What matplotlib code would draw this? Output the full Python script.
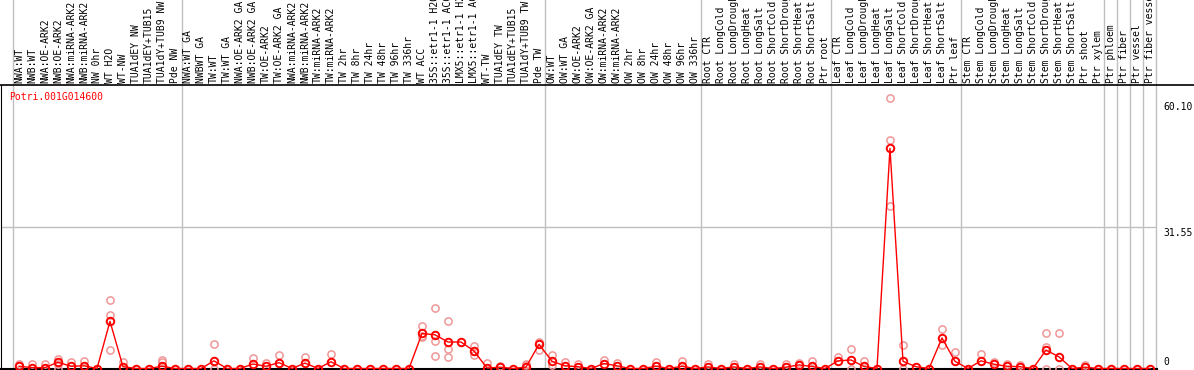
"""Expression profile of Potri.001G014600 across poplar samples."""

import matplotlib.pyplot as plt
from matplotlib.lines import Line2D

samples = [
    "NWA:WT", "NWB:WT", "NWA:OE-ARK2", "NWB:OE-ARK2", "NWA:miRNA-ARK2",
    "NWB:miRNA-ARK2", "NW 0hr", "WT H2O", "WT-NW", "TUA1dEY NW",
    "TUA1dEY+TUB15", "TUA1dY+TUB9 NW", "Pde NW",
    "NWA:WT GA", "NWBWT GA", "TW:WT", "TW:WT GA", "NWA:OE-ARK2 GA",
    "NWB:OE-ARK2 GA", "TW:OE-ARK2", "TW:OE-ARK2 GA", "NWA:miRNA-ARK2",
    "NWB:miRNA-ARK2", "TW:miRNA-ARK2", "TW:miRNA-ARK2", "TW 2hr", "TW 8hr",
    "TW 24hr", "TW 48hr", "TW 96hr", "TW 336hr", "WT ACC",
    "35S::etr1-1 H2O", "35S::etr1-1 ACC", "LMX5::etr1-1 H2O",
    "LMX5::etr1-1 ACC", "WT-TW", "TUA1dEY TW", "TUA1dEY+TUB15",
    "TUA1dY+TUB9 TW", "Pde TW",
    "OW:WT", "OW:WT GA", "OW:OE-ARK2", "OW:OE-ARK2 GA", "OW:miRNA-ARK2",
    "OW:miRNA-ARK2", "OW 2hr", "OW 8hr", "OW 24hr", "OW 48hr", "OW 96hr",
    "OW 336hr",
    "Root CTR", "Root LongCold", "Root LongDrought", "Root LongHeat",
    "Root LongSalt", "Root ShortCold", "Root ShortDrought", "Root ShortHeat",
    "Root ShortSalt", "Ptr root",
    "Leaf CTR", "Leaf LongCold", "Leaf LongDrought", "Leaf LongHeat",
    "Leaf LongSalt", "Leaf ShortCold", "Leaf ShortDrought", "Leaf ShortHeat",
    "Leaf ShortSalt", "Ptr leaf",
    "Stem CTR", "Stem LongCold", "Stem LongDrought", "Stem LongHeat",
    "Stem LongSalt", "Stem ShortCold", "Stem ShortDrought", "Stem ShortHeat",
    "Stem ShortSalt", "Ptr shoot", "Ptr xylem",
    "Ptr phloem", "Ptr fiber", "Ptr vessel", "Ptr fiber vessel",
]

mean_expr = [
    0.5, 0.2, 0.2, 1.4, 0.5, 0.6, 0.0, 10.5, 0.4, 0.0, 0.0, 0.5, 0.0,
    0.0, 0.0, 1.7, 0.0, 0.0, 1.0, 0.5, 1.3, 0.0, 1.2, 0.0, 1.5, 0.0, 0.0,
    0.0, 0.0, 0.0, 0.0, 7.8, 7.5, 5.9, 5.9, 3.9, 0.1, 0.3, 0.0, 0.3, 5.4,
    1.6, 0.6, 0.4, 0.0, 1.1, 0.6, 0.0, 0.0, 0.5, 0.0, 0.5, 0.0,
    0.35, 0.0, 0.35, 0.0, 0.35, 0.0, 0.3, 0.8, 0.45, 0.0,
    1.7, 1.9, 0.45, 0.0, 49.0, 1.6, 0.4, 0.0, 6.8, 1.6,
    0.0, 1.7, 0.95, 0.5, 0.4, 0.0, 4.1, 2.6, 0.0, 0.3, 0.0,
    0.0, 0.0, 0.0, 0.0,
]

# individual replicates (sample index, value)
rep_index = [
    0, 1, 2, 3, 3, 3, 4, 5, 7, 7, 7, 8, 11, 11, 15, 15, 18, 19, 20, 22, 24,
    31, 31, 31, 32, 32, 32, 33, 33, 33, 35, 35, 36, 37, 39, 39, 40, 40,
    41, 41, 42, 43, 45, 46, 49, 51, 53, 55, 57, 59, 60, 61, 63, 64, 64, 65,
    67, 67, 67, 68, 68, 71, 71, 72, 74, 75, 76, 77, 79, 79, 79, 80, 80, 82,
]
rep_value = [
    1.0, 1.0, 1.0, 2.1, 1.0, 0.0, 1.5, 1.75, 15.3, 12.0, 4.2, 1.5, 1.9, 1.5,
    5.5, 0.0, 2.4, 1.2, 2.9, 2.6, 3.3,
    9.4, 7.3, 7.0, 13.4, 6.1, 2.8, 10.5, 4.4, 2.5, 4.9, 3.1, 1.2, 0.6,
    1.1, 0.8, 5.8, 4.2, 2.9, 0.8, 1.5, 1.0, 1.85, 1.3, 1.4, 1.7, 1.1, 1.1,
    1.1, 1.1, 1.3, 1.6, 2.5, 4.3, 0.0, 1.7,
    60.1, 50.8, 36.1, 5.2, 0.0, 8.8, 5.2, 3.7, 3.3, 1.5, 1.0, 0.8,
    8.0, 4.8, 0.0, 8.0, 0.0, 0.7,
]

group_breaks = [-0.5, 12.5, 40.5, 52.5, 62.5, 72.5, 83.5, 84.5, 85.5, 86.5, 87.5]
gene_id = "Potri.001G014600"
y_max = 63.1
y_ticks = [0.0, 31.55, 60.10]
y_tick_labels = ["0", "31.55", "60.10"]

W, H = 1194, 370
MONO = "DejaVu Sans Mono"
GREY = "#c0c0c0"

fig = plt.figure(figsize=(W / 100, H / 100), dpi=100)
ax_h = (368.5 - 85) / H
ax = fig.add_axes([1 / W, 1.5 / H, 1156 / W, ax_h])
ax.set_xlim(-1.385, 87.54)
ax.set_ylim(0, y_max)
ax.set_xticks([])
ax.set_yticks([])
for side in ("top", "right"):
    ax.spines[side].set_visible(False)
ax.spines["left"].set_color("black")
ax.spines["bottom"].set_color("black")
ax.spines["bottom"].set_linewidth(1.5)

# separator lines reach up through the label band
top_frac = 1 + 85 / (ax_h * H)
for b in group_breaks:
    ax.plot([b, b], [0, top_frac], transform=ax.get_xaxis_transform(),
            color=GREY, lw=1, clip_on=False, zorder=1)
ax.axhline(y_max / 2, color=GREY, lw=1, zorder=1)

# full-width rule between labels and plot
fig.add_artist(Line2D([0, 1], [(H - 85) / H] * 2, transform=fig.transFigure,
                      color="black", lw=1.2))

xs = list(range(len(samples)))
ax.plot(rep_index, rep_value, ls="none", marker="o", ms=5.2, mfc="none",
        mec="#ef9797", mew=1.1, zorder=3)
ax.plot(xs, mean_expr, color="#ff0000", lw=1, marker="o", ms=5.4,
        mfc="none", mec="#ff0000", mew=1.4, zorder=4)

label_y = 1 + 2 / (ax_h * H)
for x, name in zip(xs, samples):
    ax.text(x, label_y, name, transform=ax.get_xaxis_transform(), rotation=90,
            ha="center", va="bottom", fontsize=7, family=MONO, clip_on=False)

ax.text(8 / 1156, 1 - 12 / (ax_h * H), gene_id, transform=ax.transAxes,
        ha="left", va="center", fontsize=7, family=MONO, color="#ff0000")

offsets = [6.5, -5.8, -8.7]
for val, txt, off in zip(y_ticks, y_tick_labels, offsets):
    ax.annotate(txt, xy=(88.0, val), xytext=(0, off), textcoords="offset pixels",
                ha="left", va="center", fontsize=7, family=MONO,
                annotation_clip=False)

fig.savefig("out.png", dpi=100)
plt.close(fig)
